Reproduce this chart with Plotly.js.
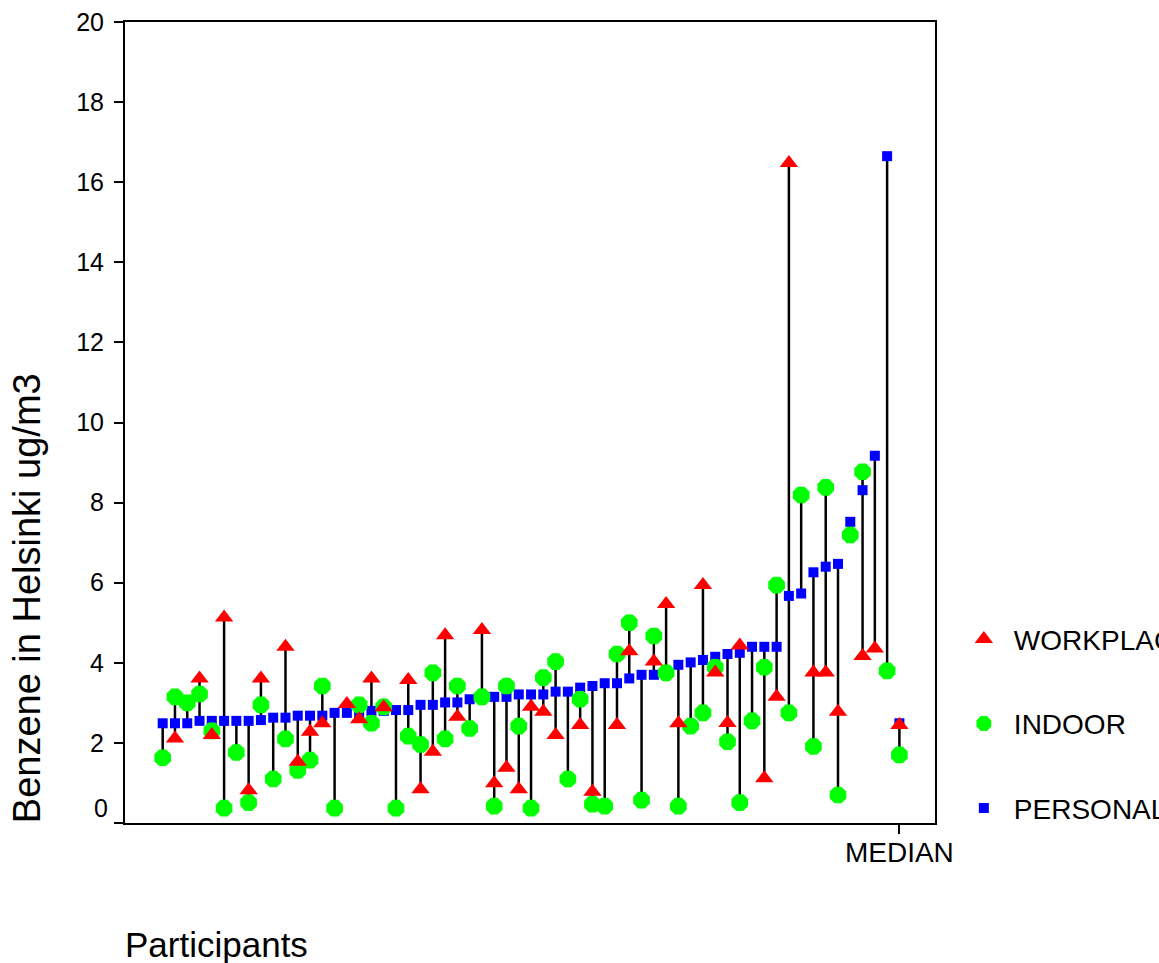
<!DOCTYPE html>
<html>
<head>
<meta charset="utf-8">
<script src="https://cdn.plot.ly/plotly-3.0.1.min.js"></script>
<style>html,body{margin:0;padding:0;background:#fff;}#chart{width:1159px;height:963px;}</style>
</head>
<body>
<div id="chart"></div>
<script>
// Categories: participants sorted by personal exposure, then the median
const participants = ["1","2","3","4","5","6","7","8","9","10","11","12","13","14","15","16","17","18","19","20",
  "21","22","23","24","25","26","27","28","29","30","31","32","33","34","35","36","37","38","39","40",
  "41","42","43","44","45","46","47","48","49","50","51","52","53","54","55","56","57","58","59","60","MEDIAN"];

// Benzene (ug/m3)
const personal = [2.49,2.49,2.49,2.55,2.55,2.55,2.55,2.55,2.57,2.63,2.63,2.68,2.68,2.68,2.75,2.75,2.75,2.80,2.80,2.82,
  2.82,2.95,2.95,3.01,3.01,3.09,3.12,3.15,3.15,3.21,3.21,3.21,3.28,3.28,3.38,3.42,3.49,3.49,3.61,3.70,
  3.70,3.75,3.95,4.01,4.07,4.15,4.22,4.25,4.40,4.40,4.40,5.67,5.73,6.26,6.40,6.47,7.52,8.31,9.17,16.65,2.49];
const indoor = [1.63,3.15,3.00,3.22,2.30,0.37,1.76,0.51,2.95,1.10,2.10,1.31,1.57,3.42,0.37,null,2.95,2.49,2.90,0.37,
  2.17,1.96,3.75,2.10,3.42,2.36,3.15,0.42,3.42,2.42,0.37,3.63,4.03,1.10,3.09,0.47,0.42,4.22,5.00,0.57,
  4.67,3.75,0.42,2.42,2.75,3.89,2.03,0.51,2.55,3.89,5.94,2.75,8.19,1.91,8.38,0.70,7.19,8.77,null,3.80,1.70];
const workplace = [null,2.11,null,3.61,2.20,5.13,null,0.82,3.61,null,4.40,1.53,2.28,2.49,null,2.97,2.59,3.61,2.89,null,
  3.57,0.84,1.78,4.69,2.65,null,4.82,0.99,1.38,0.84,2.90,2.78,2.20,null,2.45,0.78,null,2.45,4.29,null,
  4.03,5.47,2.49,null,5.94,3.76,2.50,4.43,null,1.12,3.15,16.48,null,3.76,3.76,2.78,null,4.17,4.36,null,2.45];

const yTicks = [0,2,4,6,8,10,12,14,16,18,20];

// high-low connector lines built from the data
const lx = [], ly = [];
participants.forEach((p, i) => {
  const vals = [personal[i], indoor[i], workplace[i]].filter(v => v !== null);
  lx.push(p, p, null);
  ly.push(Math.min(...vals), Math.max(...vals), null);
});

const FONT = "Liberation Sans, Arial, Helvetica, sans-serif";

const traces = [
  {x: lx, y: ly, type: 'scatter', mode: 'lines', line: {color: '#000', width: 2.5},
   showlegend: false, hoverinfo: 'skip'},
  {x: participants, y: personal, type: 'scatter', mode: 'markers', name: 'PERSONAL', legendgroup: 'p', legendrank: 3,
   marker: {symbol: 'square', size: 10, color: '#0000FF', line: {width: 0}}},
  {x: participants, y: indoor, type: 'scatter', mode: 'markers', name: 'INDOOR', legendgroup: 'i', legendrank: 2,
   marker: {symbol: 'octagon', size: 18, color: '#00FF00', line: {width: 0}}},
  {x: participants, y: workplace, type: 'scatter', mode: 'markers', name: 'WORKPLACE', legendgroup: 'w', legendrank: 1,
   marker: {symbol: 'triangle-up', size: 16, color: '#FF0000', line: {width: 0}}}
];

const layout = {
  width: 1159, height: 963,
  margin: {l: 125, r: 224, t: 22, b: 140, pad: 0},
  paper_bgcolor: '#fff', plot_bgcolor: '#fff',
  font: {family: FONT, color: '#000'},
  xaxis: {
    type: 'category', categoryorder: 'array', categoryarray: participants,
    range: [-3.07, 62.9], showgrid: false, zeroline: false,
    showline: true, linecolor: '#000', linewidth: 2, mirror: true,
    ticks: 'outside', ticklen: 9, tickwidth: 2, tickcolor: '#000',
    tickmode: 'array', tickvals: ['MEDIAN'], ticktext: ['MEDIAN'],
    tickfont: {family: FONT, size: 28, color: '#000'}, ticklabelstandoff: -6
  },
  yaxis: {
    range: [0, 20], showgrid: false, zeroline: false,
    showline: true, linecolor: '#000', linewidth: 2, mirror: true,
    ticks: 'outside', ticklen: 9, tickwidth: 2, tickcolor: '#000',
    tickmode: 'array', tickvals: yTicks, ticktext: yTicks.map(v => v === 0 ? '' : String(v)),
    tickfont: {family: FONT, size: 25, color: '#000'}, ticklabelstandoff: 5
  },
  legend: {
    xref: 'container', yref: 'container', x: 0.823, y: 0.362, xanchor: 'left', yanchor: 'top',
    traceorder: 'grouped', tracegroupgap: 45, valign: 'top', itemwidth: 50,
    font: {family: FONT, size: 28, color: '#000'}, bgcolor: 'rgba(0,0,0,0)', borderwidth: 0
  },
  annotations: [
    {text: '0', xref: 'paper', yref: 'y', x: 0, y: 0.38, xanchor: 'right', yanchor: 'middle',
     xshift: -15, showarrow: false, font: {family: FONT, size: 25, color: '#000'}},
    {text: 'Participants', xref: 'paper', yref: 'paper', x: -0.003, y: -0.152, xanchor: 'left', yanchor: 'middle',
     showarrow: false, font: {family: FONT, size: 35, color: '#000'}},
    {text: 'Benzene in Helsinki ug/m3', xref: 'paper', yref: 'paper', x: -0.12, y: -0.003,
     xanchor: 'center', yanchor: 'bottom', textangle: -90, showarrow: false,
     font: {family: FONT, size: 38, color: '#000'}}
  ]
};

Plotly.newPlot('chart', traces, layout, {displayModeBar: false, staticPlot: true});
</script>
</body>
</html>
